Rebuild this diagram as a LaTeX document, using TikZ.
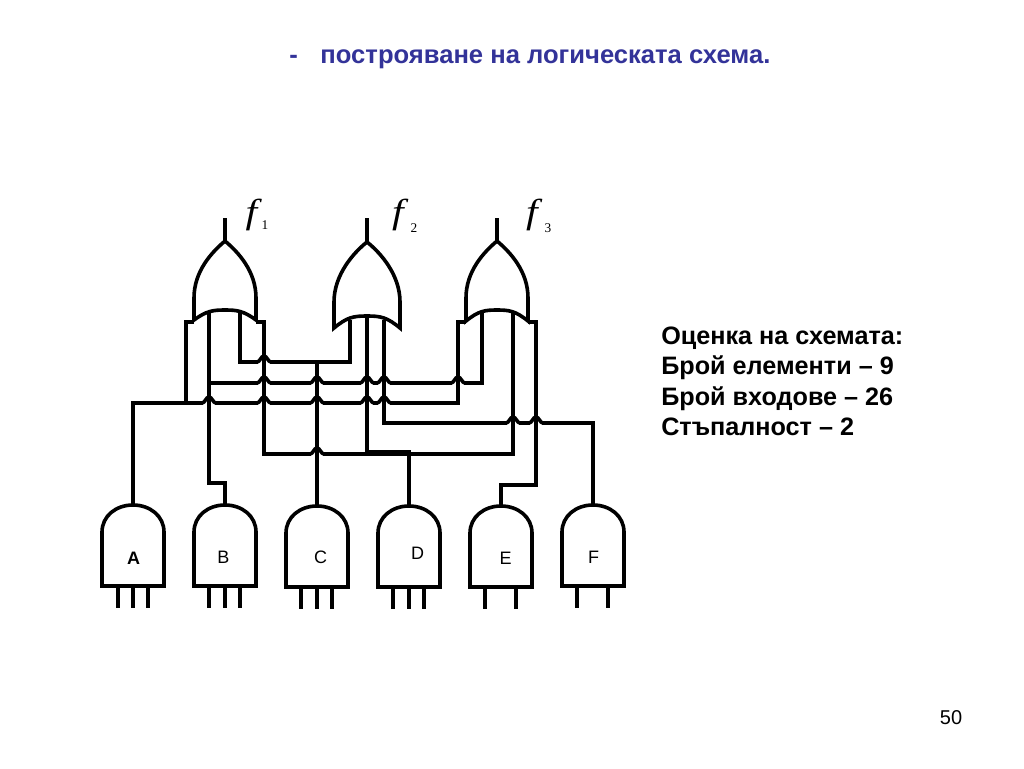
\documentclass[tikz,border=0pt]{standalone}
\usepackage{fontspec}
\setmainfont{Liberation Sans}
\newfontfamily\serifit{Liberation Serif}
\definecolor{titleblue}{HTML}{333399}
\tikzset{
  x=0.75pt,y=-0.75pt,
  wire/.style={draw=black,line width=2.7pt,line join=miter},
  gateline/.style={draw=black,line width=2.7pt,line join=miter},
  pinline/.style={draw=black,line width=2.6pt},
  glabel/.style={font=\fontsize{13.5pt}{15pt}\selectfont,inner sep=0pt,anchor=center},
  info/.style={font=\fontsize{18.9pt}{22.3pt}\selectfont\bfseries,inner sep=0pt,anchor=base west},
  fn/.style={font=\serifit\itshape\fontsize{26pt}{30pt}\selectfont,inner sep=0pt,anchor=base,xscale=1.2},
  fnidx/.style={font=\serifit\fontsize{10pt}{10pt}\selectfont,inner sep=0pt,anchor=base},
}
\newcommand{\andgate}[2]{%
  \draw[gateline] (#1-31,#2) -- (#1-31,#2-54) .. controls (#1-31,#2-70) and (#1-17,#2-81) .. (#1,#2-81)
     .. controls (#1+17,#2-81) and (#1+31,#2-70) .. (#1+31,#2-54) -- (#1+31,#2) -- cycle;}
\newcommand{\orgate}[6]{%
  \draw[gateline] (#1-#3,#5) -- (#1-#3,#4) .. controls (#1-#3,#4-27) and (#1-#3*0.42,#2+11) .. (#1,#2)
     .. controls (#1+#3*0.42,#2+11) and (#1+#3,#4-27) .. (#1+#3,#4) -- (#1+#3,#5)
     .. controls (#1+#3*0.6,#6+1) and (#1+#3*0.4,#6) .. (#1,#6)
     .. controls (#1-#3*0.4,#6) and (#1-#3*0.6,#6+1) .. (#1-#3,#5) -- cycle;}
\newcommand{\hop}[2]{%
  \fill[white] (#1-6,#2-2) rectangle (#1+6,#2+2);
  \draw[wire] (#1-7,#2) .. controls (#1-4,#2) and (#1-3,#2-6) .. (#1,#2-6)
     .. controls (#1+3,#2-6) and (#1+4,#2) .. (#1+7,#2);}
\begin{document}
\begin{tikzpicture}
\useasboundingbox (0,0) rectangle (1024,768);
\fill[white] (0,0) rectangle (1024,768);

\node[font=\fontsize{19.2pt}{22pt}\selectfont\bfseries,text=titleblue,inner sep=0pt,anchor=base west] (title) at (289,63)
  {-\hspace{17pt}построяване на логическата схема.};
\node[info] (i1) at (661,344) {Оценка на схемата:};
\node[info] (i2) at (661,374) {Брой елементи – 9};
\node[info] (i3) at (661,405) {Брой входове – 26};
\node[info] (i4) at (661,435) {Стъпалност – 2};
\node[font=\fontsize{15pt}{18pt}\selectfont,inner sep=0pt,anchor=base] (page) at (951,724) {50};

\node[fn] (f1) at (251.5,223) {f};
\node[fnidx] (s1) at (265,229) {1};
\node[fn] (f2) at (398,223) {f};
\node[fnidx] (s2) at (414,232) {2};
\node[fn] (f3) at (532,223) {f};
\node[fnidx] (s3) at (548,232) {3};

\coordinate (Aout) at (133,505); \coordinate (Bout) at (225,505); \coordinate (Cout) at (317,506);
\coordinate (Dout) at (409,506); \coordinate (Eout) at (501,506); \coordinate (Fout) at (593,505);
\coordinate (o1a) at (194,322); \coordinate (o1b) at (209,313); \coordinate (o1c) at (240,313); \coordinate (o1d) at (256,322);
\coordinate (o2a) at (350,320); \coordinate (o2b) at (367,316); \coordinate (o2c) at (384,320);
\coordinate (o3a) at (466,322); \coordinate (o3b) at (482,313); \coordinate (o3c) at (513,313); \coordinate (o3d) at (528,322);

\draw[wire] (o1a) -- (186,322) -- (186,403);
\draw[wire] (Aout) -- (133,403) -- (458,403) -- (458,322) -- (o3a);
\draw[wire] (o1b) -- (209,483) -- (225,483) -- (Bout);
\draw[wire] (209,383) -- (482,383) -- (o3b);
\draw[wire] (o1c) -- (240,362) -- (350,362) -- (o2a);
\draw[wire] (o1d) -- (264,322) -- (264,454) -- (513,454) -- (o3c);
\draw[wire] (Cout) -- (317,362);
\draw[wire] (o2b) -- (367,452) -- (409,452) -- (Dout);
\draw[wire] (o2c) -- (384,423) -- (593,423) -- (Fout);
\draw[wire] (o3d) -- (536,322) -- (536,485) -- (501,485) -- (Eout);

\hop{264}{362}
\hop{264}{383}\hop{317}{383}\hop{367}{383}\hop{384}{383}\hop{458}{383}
\hop{209}{403}\hop{264}{403}\hop{317}{403}\hop{367}{403}\hop{384}{403}
\hop{317}{454}
\hop{513}{423}\hop{536}{423}
\draw[wire] (264,322) -- (264,454);
\draw[wire] (o1b) -- (209,483);
\draw[wire] (Cout) -- (317,362);
\draw[wire] (o2b) -- (367,452);
\draw[wire] (o2c) -- (384,423);
\draw[wire] (458,403) -- (458,322);
\draw[wire] (513,454) -- (o3c);
\draw[wire] (536,322) -- (536,485);

\orgate{225}{241}{31}{298}{320}{310}
\orgate{367}{242}{33}{302}{328}{316}
\orgate{497}{241}{31}{298}{321}{310}
\draw[pinline] (225,241) -- (225,218);
\draw[pinline] (367,242) -- (367,218);
\draw[pinline] (497,241) -- (497,218);

\andgate{133}{586}\andgate{225}{586}\andgate{317}{587}\andgate{409}{587}\andgate{501}{587}\andgate{593}{586}

\foreach \x in {118,133,148,209,225,240} \draw[pinline] (\x,586) -- (\x,608);
\foreach \x in {301,317,332,393,409,424,485,516} \draw[pinline] (\x,587) -- (\x,609);
\foreach \x in {577,608} \draw[pinline] (\x,586) -- (\x,608);

\node[glabel,font=\fontsize{13.5pt}{15pt}\selectfont\bfseries] (A) at (133.5,558) {A};
\node[glabel] (B) at (223.5,557.5) {B};
\node[glabel] (C) at (320.5,557.5) {C};
\node[glabel] (D) at (417.5,553) {D};
\node[glabel] (E) at (505.5,558.5) {E};
\node[glabel] (F) at (593.5,557.5) {F};
\end{tikzpicture}
\end{document}
